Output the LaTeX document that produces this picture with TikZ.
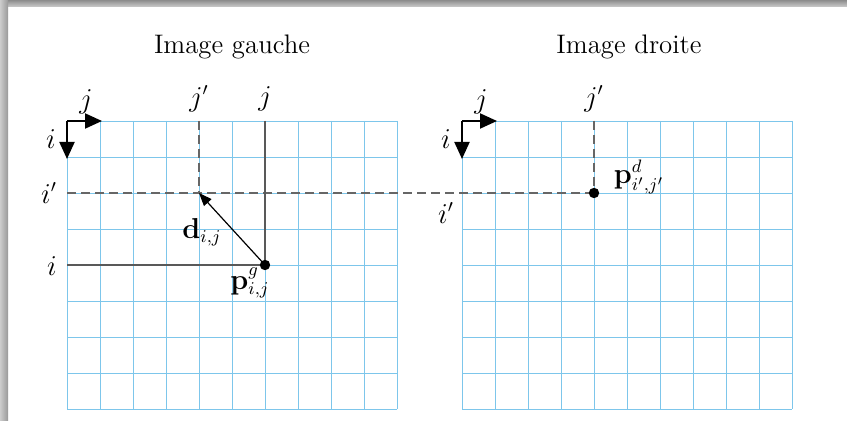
\documentclass[tikz,border=0pt]{standalone}
\usetikzlibrary{arrows.meta}
\definecolor{gridblue}{RGB}{125,198,235}
\begin{document}
\begin{tikzpicture}[x=0.5pt,y=-0.5pt,
  every node/.style={font=\fontsize{13.4}{16}\selectfont, inner sep=0pt},
  gridline/.style={draw=gridblue, line width=0.4pt},
  axisarrow/.style={draw=black, line width=1pt, -{Triangle[length=8.5pt,width=7.5pt]}},
  guide/.style={draw=black!65, line width=0.6pt},
  dashguide/.style={draw=black!60, line width=1pt, dash pattern=on 4.5pt off 2.5pt},
  disparity/.style={draw=black, line width=0.6pt, -{Triangle[length=6.5pt,width=5pt]}},
  pointdot/.style={fill=black, circle, minimum size=5.2pt, inner sep=0pt}]
\useasboundingbox (0,0) rectangle (847,421);
\fill[white] (0,0) rectangle (847,421);
% window shadow
\shade[top color=black!45, bottom color=black!20] (0,0) rectangle (847,7);
\shade[left color=black!20, right color=black!40] (0,0) rectangle (8,421);
% grids
\foreach \s in {0,395}{
  \foreach \k in {0,...,10} \draw[gridline] (67+\s+33*\k,121) -- (67+\s+33*\k,409);
  \foreach \k in {0,...,8} \draw[gridline] (67+\s,121+36*\k) -- (397+\s,121+36*\k);
}
% titles
\node (tg) at (232,47) {Image gauche};
\node (td) at (629,47) {Image droite};
% coordinates
\coordinate (oL) at (67,121);
\coordinate (oLj) at (102,121);
\coordinate (oLi) at (67,159);
\coordinate (oR) at (462,121);
\coordinate (oRj) at (497,121);
\coordinate (oRi) at (462,159);
\coordinate (jpTopL) at (199,121);
\coordinate (jTopL) at (265,121);
\coordinate (ipLeft) at (67,193);
\coordinate (iLeft) at (67,265);
\coordinate (dEnd) at (199,193);
\coordinate (jpTopR) at (594,121);
% guides
\draw[dashguide] (jpTopL) -- (dEnd);
\draw[dashguide] (jpTopR) -- (594,193);
\draw[dashguide] (ipLeft) -- (594,193);
\draw[guide] (jTopL) -- (265,265);
\draw[guide] (iLeft) -- (265,265);
% points
\node[pointdot] (pg) at (265,265) {};
\node[pointdot] (pd) at (594,193) {};
\draw[disparity] (pg.center) -- (dEnd);
% axes
\draw[axisarrow] (oL) -- (oLj);
\draw[axisarrow] (oL) -- (oLi);
\draw[axisarrow] (oR) -- (oRj);
\draw[axisarrow] (oR) -- (oRi);
% labels left
\node (ljax) at (86,102) {$j$};
\node (liax) at (51,139) {$i$};
\node (ljp) at (199,99) {$j'$};
\node (lj) at (265,99) {$j$};
\node (lip) at (49,193) {$i'$};
\node (li) at (52,266) {$i$};
\node (ld) at (202,232) {$\mathbf{d}_{i,j}$};
\node (lpg) at (250,283) {$\mathbf{p}^{g}_{i,j}$};
% labels right
\node (rjax) at (481,102) {$j$};
\node (riax) at (446,139) {$i$};
\node (rjp) at (594,99) {$j'$};
\node (rip) at (446,213) {$i'$};
\node (lpd) at (639,177) {$\mathbf{p}^{d}_{i',j'}$};
\end{tikzpicture}
\end{document}
